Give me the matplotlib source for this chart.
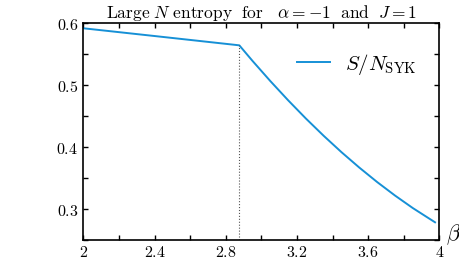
import matplotlib
matplotlib.use('Agg')
import matplotlib.pyplot as plt
import numpy as np

plt.rcParams['mathtext.fontset'] = 'cm'
plt.rcParams['font.family'] = 'serif'
plt.rcParams['font.serif'] = ['DejaVu Serif']

# values
beta = [2.0, 2.4, 2.876, 2.95, 3.05, 3.15, 3.25, 3.35, 3.45, 3.55, 3.65, 3.75, 3.85, 3.975]
entropy = [0.5915, 0.579, 0.564, 0.5389, 0.5064, 0.4754, 0.4459, 0.418, 0.3916,
           0.3668, 0.3435, 0.3218, 0.3016, 0.2786]
beta_c = 2.876
s_c = 0.564

xticks = [2, 2.4, 2.8, 3.2, 3.6, 4]
yticks = [0.3, 0.4, 0.5, 0.6]

fig = plt.figure(figsize=(4.59, 2.57), dpi=100)
ax = fig.add_axes([0.1815, 0.066, 0.776, 0.8445])

ax.plot(beta, entropy, c='#1690d6', lw=1.4, label=r'$S/N_{\rm SYK}$')
ax.plot([beta_c, beta_c], [0.25, s_c], ls=':', c='#555555', lw=0.8)

ax.set_xlim(2, 4)
ax.set_ylim(0.25, 0.6)
ax.set_xticks(xticks)
ax.set_xticklabels(['$%g$' % t for t in xticks])
ax.set_xticks(np.arange(2, 4.01, 0.2), minor=True)
ax.set_yticks(yticks)
ax.set_yticklabels(['$%g$' % t for t in yticks])
ax.set_yticks(np.arange(0.25, 0.601, 0.05), minor=True)
ax.tick_params(which='both', direction='in', top=True, right=True, length=3.5, width=1, labelsize=11.5)
ax.tick_params(axis='x', pad=2.5)
for s in ax.spines.values():
    s.set_linewidth(1.2)

ax.set_title(r'$\mathrm{Large}\ N\ \mathrm{entropy\ \ for}\ \ \ \alpha=-1\ \ \mathrm{and}\ \ J=1$', fontsize=12.5, pad=3)
ax.text(1.018, -0.03, r'$\beta$', transform=ax.transAxes, fontsize=16, ha='left', va='bottom')

ax.legend(loc='center left', bbox_to_anchor=(0.6, 0.811), frameon=False, fontsize=15,
          borderaxespad=0, borderpad=0, handlelength=1.6, handletextpad=0.72)

fig.savefig('out.png', dpi=100)
